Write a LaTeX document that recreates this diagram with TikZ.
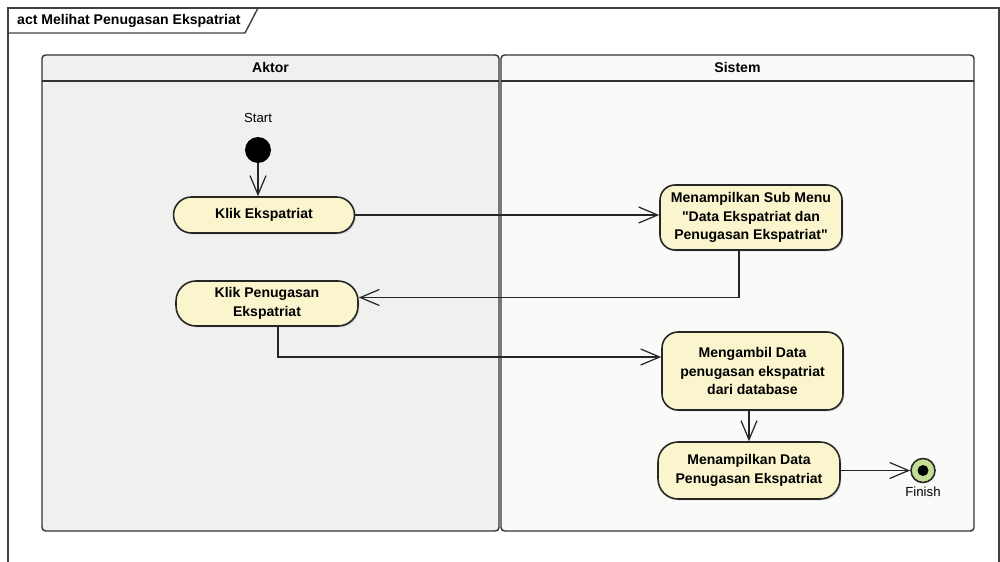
\documentclass[tikz,border=0pt]{standalone}
\usepackage{fontspec}
\setmainfont{Liberation Sans}
\usepackage{tikz}
\usetikzlibrary{calc,arrows.meta,shadows}
\usepackage{xcolor}
\definecolor{actfill}{RGB}{250,245,205}
\definecolor{aktorbg}{RGB}{240,240,238}
\definecolor{sistembg}{RGB}{250,250,249}
\definecolor{finfill}{RGB}{196,222,150}
\newcommand{\txtsize}{\fontsize{8}{10.5}\selectfont}
\newcommand{\lblsize}{\fontsize{7.5}{9}\selectfont}
\newcommand{\dq}{\XeTeXglyph\the\XeTeXcharglyph"0022\relax}
\tikzset{
  act/.style={draw=black!85,line width=0.9pt,fill=actfill,align=center,inner sep=2pt,
    font=\bfseries\txtsize,drop shadow={shadow xshift=0.8pt,shadow yshift=-0.8pt,opacity=0.3}},
  flow/.style={draw=black!85,line width=0.7pt,-{Straight Barb[length=3.8mm,width=3.2mm]}},
  lane/.style={draw=black!80,line width=0.8pt,rounded corners=2pt},
  hdr/.style={font=\bfseries\txtsize},
  lbl/.style={font=\lblsize}
}

\begin{document}
\begin{tikzpicture}[x=0.02cm,y=-0.02cm]
    \useasboundingbox (0,0) rectangle (1000,561);
    \clip (0,0) rectangle (1000,561);

    \draw[black!75,line width=0.8pt] (8,570) -- (8,8) -- (999,8) -- (999,570);
    \draw[black!75,line width=0.8pt] (8,33) -- (245,33) -- (258,8);
    \node[hdr,anchor=west] (title) at (11,21) {act Melihat Penugasan Ekspatriat};

    \draw[lane,fill=aktorbg] (42,55) rectangle (499,531);
    \draw[black!80,line width=0.8pt] (42,81) -- (499,81);
    \node[hdr] (aktor) at (270.5,67) {Aktor};
    \draw[lane,fill=sistembg] (501,55) rectangle (974,531);
    \draw[black!80,line width=0.8pt] (501,81) -- (974,81);
    \node[hdr] (sistem) at (737.5,67) {Sistem};

    \node[lbl] (startlbl) at (258,118) {Start};
    \node[circle,fill=black,minimum size=0.52cm,inner sep=0] (start) at (258,150) {};

    \node[act,minimum width=3.62cm,minimum height=0.72cm,rounded corners=0.36cm] (klikeks) at (264,215) {Klik Ekspatriat};
    \node[act,minimum width=3.64cm,minimum height=0.9cm,rounded corners=0.4cm] (klikpen) at (267,303.5) {Klik Penugasan\\Ekspatriat};
    \node[act,minimum width=3.64cm,minimum height=1.3cm,rounded corners=0.3cm] (submenu) at (751,217.5) {Menampilkan Sub Menu\\\dq Data Ekspatriat dan\\Penugasan Ekspatriat\dq};
    \node[act,minimum width=3.62cm,minimum height=1.56cm,rounded corners=0.32cm] (ambil) at (752.5,371) {Mengambil Data\\penugasan ekspatriat\\dari database};
    \node[act,minimum width=3.64cm,minimum height=1.14cm,rounded corners=0.4cm] (tampil) at (749,470.5) {Menampilkan Data\\Penugasan Ekspatriat};

    \node[circle,draw=black!85,line width=0.9pt,fill=finfill,minimum size=0.48cm,inner sep=0] (finish) at (923,470.5) {};
    \node[circle,fill=black,minimum size=0.22cm,inner sep=0] (finishdot) at (finish) {};
    \node[lbl] (finishlbl) at (923,492) {Finish};

    \draw[flow] (start.south) -- (start.south |- klikeks.north);
    \draw[flow] (klikeks.east) -- (klikeks.east -| submenu.west);
    \draw[flow] ($(submenu.south)+(-12,0)$) |- ($(klikpen.east)+(0,-6)$);
    \draw[flow] ($(klikpen.south)+(11,0)$) |- ($(ambil.west)+(0,-14)$);
    \draw[flow] (ambil.south -| tampil.north) -- (tampil.north);
    \draw[flow] (tampil.east) -- (finish.west);
    \end{tikzpicture}
\end{document}
